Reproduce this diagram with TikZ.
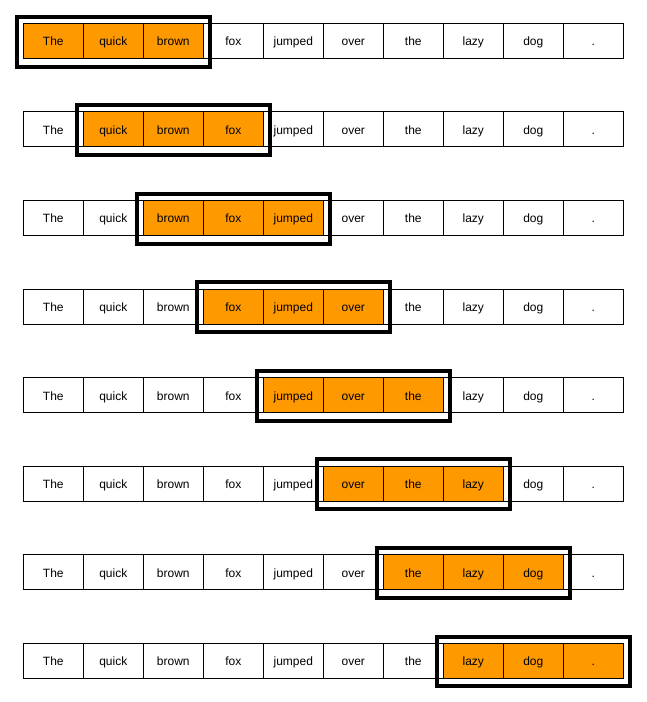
\documentclass[tikz,border=0pt]{standalone}
\usepackage{fontspec}
\setmainfont{Liberation Sans}
\definecolor{hlorange}{RGB}{255,153,0}
\tikzset{
  cell/.style={draw=black, line width=0.8pt, minimum width=60pt, minimum height=35pt, inner sep=0pt, text height=10.6pt, text depth=0.6pt, font=\fontsize{12}{14}\selectfont, text=black},
  hlcell/.style={cell, fill=hlorange},
  winbox/.style={draw=black, line width=4pt}
}
\begin{document}
\begin{tikzpicture}[x=1pt,y=-1pt]
\useasboundingbox[fill=white] (0,0) rectangle (646,702);
\foreach \r in {0,...,7}{
  \pgfmathtruncatemacro{\e}{\r+2}
  \foreach \w [count=\i from 0] in {The,quick,brown,fox,jumped,over,the,lazy,dog,.}{
    \ifnum\i<\r \def\st{cell}\else\ifnum\i>\e \def\st{cell}\else\def\st{hlcell}\fi\fi
    \node[\st] (c-\r-\i) at ({53.3+60*\i},{40.8+88.57*\r}) {\w};
  }
  \draw[winbox] ([xshift=-6pt,yshift=6.3pt]c-\r-\r.north west) rectangle ([xshift=6.5pt,yshift=-7.8pt]c-\r-\e.south east);
}
\end{tikzpicture}
\end{document}
